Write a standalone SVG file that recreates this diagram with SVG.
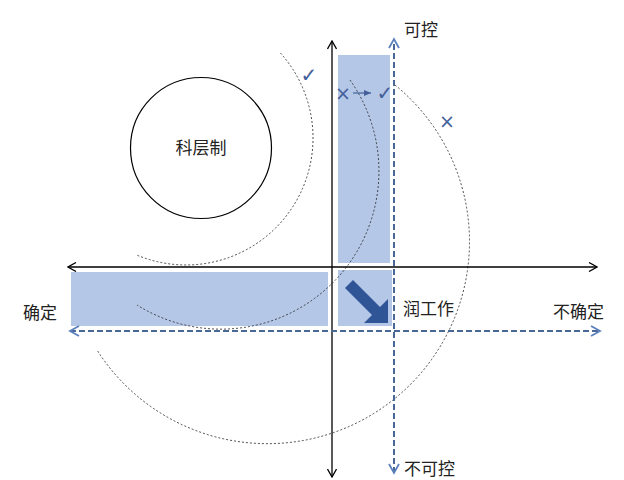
<svg xmlns="http://www.w3.org/2000/svg" width="624" height="480" viewBox="0 0 624 480">
<style>
.lbl{font-family:"Noto Sans CJK SC","Liberation Serif",serif;font-size:17px;fill:#222;}
.mark{font-family:"DejaVu Sans",sans-serif;fill:#44609a;}
.arc{fill:none;stroke:#222;stroke-width:0.8;stroke-dasharray:2 2;}
.axis{stroke:#000;stroke-width:1.3;fill:none;}
.daxis{stroke:#4a6896;stroke-width:2;stroke-dasharray:6 3;fill:none;}
.zone{fill:#b4c7e7;}
</style>
<defs>
<marker id="ab" markerWidth="10" markerHeight="10" refX="9" refY="5" orient="auto-start-reverse" markerUnits="userSpaceOnUse">
<path d="M1,0.5 L9,5 L1,9.5" fill="none" stroke="#000" stroke-width="1.3"/>
</marker>
<marker id="abl" markerWidth="12" markerHeight="12" refX="10" refY="6" orient="auto-start-reverse" markerUnits="userSpaceOnUse">
<path d="M1,1 L10,6 L1,11" fill="none" stroke="#5b80bd" stroke-width="1.8"/>
</marker>
<marker id="asm" markerWidth="8" markerHeight="8" refX="7" refY="4" orient="auto" markerUnits="userSpaceOnUse">
<path d="M0,1 L7,4 L0,7 Z" fill="#44609a"/>
</marker>
</defs>
<rect width="624" height="480" fill="#fff"/>
<g id="zones">
<rect class="zone" x="338" y="55" width="52" height="208"/>
<rect class="zone" x="71" y="272" width="257" height="54"/>
<rect class="zone" x="338" y="270" width="54" height="56"/>
</g>
<g id="arcs">
<path class="arc" d="M280.4,53 A127,127 0 0 1 137.4,255.3"/>
<path class="arc" d="M350,80 A158,158 0 0 1 137,305"/>
<path class="arc" d="M395,85 A202,202 0 1 1 97,350"/>
</g>
<g id="connectors">
<line class="axis" x1="332" y1="477" x2="332" y2="41" marker-start="url(#ab)" marker-end="url(#ab)"/>
<line class="axis" x1="68" y1="267" x2="597" y2="267" marker-start="url(#ab)" marker-end="url(#ab)"/>
<line class="daxis" x1="394" y1="473" x2="394" y2="39" marker-start="url(#abl)" marker-end="url(#abl)"/>
<line class="daxis" x1="70" y1="331" x2="600" y2="331" marker-start="url(#abl)" marker-end="url(#abl)"/>
<line x1="353" y1="93" x2="371" y2="93" stroke="#44609a" stroke-width="1.2" marker-end="url(#asm)"/>
</g>
<g id="bigarrow">
<polygon points="345,288 353,280 380,307 388,299 388,323 364,323 372,315" fill="#2f5597"/>
</g>
<g id="bureaucracy">
<circle cx="201" cy="148" r="70.5" fill="none" stroke="#000" stroke-width="1.2"/>
<text class="lbl" x="201" y="154" text-anchor="middle">科层制</text>
</g>
<g id="marks">
<text class="mark" x="309" y="82" font-size="20" text-anchor="middle">✓</text>
<text class="mark" x="343" y="100" font-size="19" text-anchor="middle">×</text>
<text class="mark" x="385" y="100" font-size="20" text-anchor="middle">✓</text>
<text class="mark" x="447" y="128" font-size="19" text-anchor="middle">×</text>
</g>
<g id="labels">
<text class="lbl" x="404" y="36">可控</text>
<text class="lbl" x="404" y="475">不可控</text>
<text class="lbl" x="553" y="318">不确定</text>
<text class="lbl" x="23" y="319">确定</text>
<text class="lbl" x="403" y="315">润工作</text>
</g>
</svg>
